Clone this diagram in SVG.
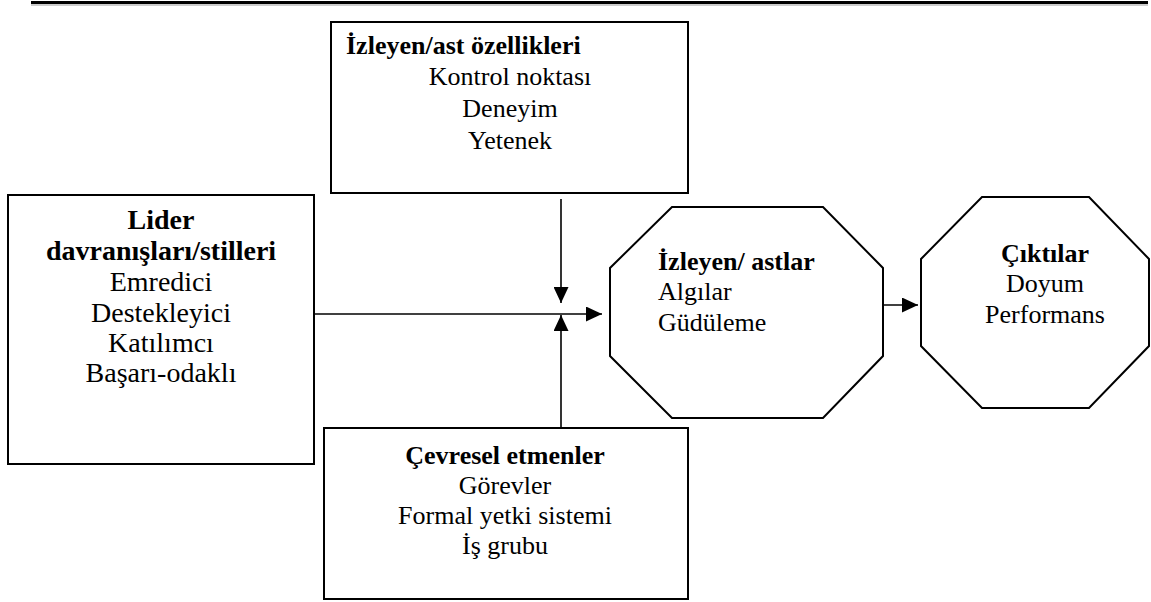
<svg xmlns="http://www.w3.org/2000/svg" width="1151" height="602" viewBox="0 0 1151 602">
<style>
  .box{fill:#fff;stroke:#000;stroke-width:2}
  .oct{fill:#fff;stroke:#000;stroke-width:2;stroke-linejoin:miter}
  text{font-family:'Liberation Serif','Times New Roman',serif;font-size:26px;fill:#000}
  .big{font-size:28px}
  .b{font-weight:bold}
  .c{text-anchor:middle}
  .conn{stroke:#000;stroke-width:1.6;fill:none}
</style>
<defs>
  <marker id="ah" viewBox="0 0 16 15" refX="16" refY="7.5" markerWidth="16" markerHeight="15" markerUnits="userSpaceOnUse" orient="auto">
    <path d="M0,0 L16,7.5 L0,15 z" fill="#000"/>
  </marker>
</defs>
<rect x="31" y="1" width="1117" height="3" fill="#000"/>
<line x1="31" y1="5" x2="1148" y2="5" stroke="#999" stroke-width="1"/>

<g id="follower-traits">
  <rect class="box" x="331" y="22" width="357" height="171"/>
  <text class="b" x="346" y="54">İzleyen/ast özellikleri</text>
  <text class="c" x="510" y="85">Kontrol noktası</text>
  <text class="c" x="510" y="117">Deneyim</text>
  <text class="c" x="510" y="149">Yetenek</text>
</g>

<g id="leader-behaviors">
  <rect class="box" x="8" y="195" width="306" height="269"/>
  <text class="big b c" x="161" y="229">Lider</text>
  <text class="big b c" x="161" y="260">davranışları/stilleri</text>
  <text class="big c" x="161" y="291">Emredici</text>
  <text class="big c" x="161" y="322">Destekleyici</text>
  <text class="big c" x="161" y="352">Katılımcı</text>
  <text class="big c" x="161" y="382">Başarı-odaklı</text>
</g>

<g id="environment">
  <rect class="box" x="324" y="428" width="364" height="171"/>
  <text class="b c" x="505" y="464">Çevresel etmenler</text>
  <text class="c" x="505" y="494">Görevler</text>
  <text class="c" x="505" y="524">Formal yetki sistemi</text>
  <text class="c" x="505" y="554">İş grubu</text>
</g>

<g id="followers">
  <polygon class="oct" points="672,207 823,207 883,268 883,356 823,418 672,418 610,356 610,268"/>
  <text class="b" x="658" y="270">İzleyen/ astlar</text>
  <text x="658" y="300">Algılar</text>
  <text x="658" y="331">Güdüleme</text>
</g>

<g id="outcomes">
  <polygon class="oct" points="982,197 1089,197 1149,259 1149,346 1089,408 982,408 921,346 921,259"/>
  <text class="b c" x="1045" y="262">Çıktılar</text>
  <text class="c" x="1045" y="292">Doyum</text>
  <text class="c" x="1045" y="323">Performans</text>
</g>

<g id="connectors">
  <line class="conn" x1="561" y1="199" x2="561" y2="303" marker-end="url(#ah)"/>
  <line class="conn" x1="561" y1="427" x2="561" y2="315" marker-end="url(#ah)"/>
  <line class="conn" x1="315" y1="314" x2="602" y2="314" marker-end="url(#ah)"/>
  <line class="conn" x1="884" y1="305" x2="918" y2="305" marker-end="url(#ah)"/>
</g>
</svg>
